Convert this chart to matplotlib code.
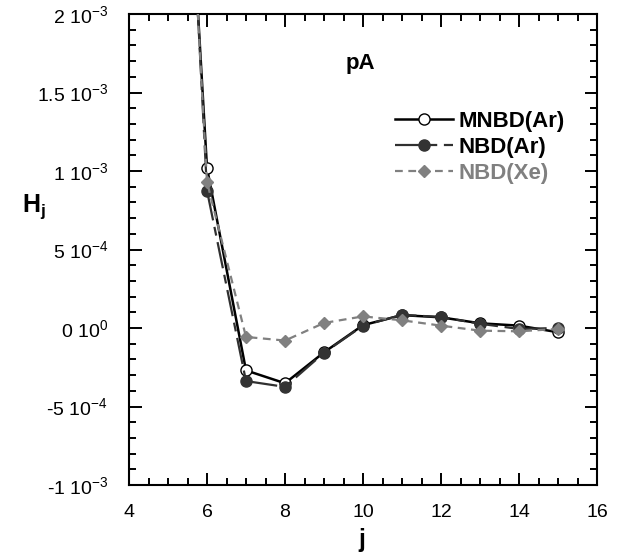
import matplotlib
matplotlib.use("Agg")
import matplotlib.pyplot as plt
from matplotlib.ticker import MultipleLocator, FixedLocator

plt.rcParams['font.family'] = ['Liberation Sans', 'DejaVu Sans']
plt.rcParams['mathtext.fontset'] = 'custom'
plt.rcParams['mathtext.rm'] = 'Liberation Sans'
plt.rcParams['mathtext.it'] = 'Liberation Sans:italic'
plt.rcParams['mathtext.bf'] = 'Liberation Sans:bold'

# ---- data ----
j = [5, 6, 7, 8, 9, 10, 11, 12, 13, 14, 15]
mnbd_ar = [5.3e-3, 1.02e-3, -0.27e-3, -0.352e-3, -0.155e-3, 0.018e-3, 0.082e-3, 0.068e-3, 0.030e-3, 0.015e-3, -0.027e-3]
nbd_ar = [5.7e-3, 0.875e-3, -0.338e-3, -0.375e-3, -0.158e-3, 0.015e-3, 0.084e-3, 0.070e-3, 0.027e-3, -0.006e-3, 0.0]
nbd_xe = [5.5e-3, 0.93e-3, -0.057e-3, -0.080e-3, 0.032e-3, 0.074e-3, 0.049e-3, 0.015e-3, -0.017e-3, -0.021e-3, -0.006e-3]

series_labels = ['MNBD(Ar)', 'NBD(Ar)', 'NBD(Xe)']
x_ticks = [4, 6, 8, 10, 12, 14, 16]
y_ticks = [-1e-3, -5e-4, 0, 5e-4, 1e-3, 1.5e-3, 2e-3]
y_tick_labels = [r'-1 10$^{-3}$', r'-5 10$^{-4}$', r'0 10$^{0}$', r'5 10$^{-4}$',
                 r'1 10$^{-3}$', r'1.5 10$^{-3}$', r'2 10$^{-3}$']

W, H = 626, 552
fig = plt.figure(figsize=(W / 100, H / 100), dpi=100)
left, right, top, bottom = 129, 597, 14, 485
ax = fig.add_axes([left / W, 1 - bottom / H, (right - left) / W, (bottom - top) / H])

ax.plot(j, mnbd_ar, color='black', lw=1.8, marker='o', ms=8, mfc='white', mec='black', mew=1.0,
        label=series_labels[0], zorder=3)
ax.plot(j, nbd_ar, color='#303030', lw=1.6, ls=(0, (12, 3, 4, 3)), marker='o', ms=8, mfc='#333333',
        mec='#333333', label=series_labels[1], zorder=4)
ax.plot(j, nbd_xe, color='#808080', lw=1.6, ls=(0, (3.5, 2.5)), marker='D', ms=6, mfc='#808080',
        mec='#808080', label=series_labels[2], zorder=5)

ax.set_xlim(4, 16)
ax.set_ylim(-1e-3, 2e-3)
ax.xaxis.set_major_locator(FixedLocator(x_ticks))
ax.xaxis.set_minor_locator(MultipleLocator(0.5))
ax.yaxis.set_major_locator(FixedLocator(y_ticks))
ax.yaxis.set_minor_locator(MultipleLocator(1e-4))
ax.set_yticklabels(y_tick_labels)
ax.set_xticklabels([str(t) for t in x_ticks])

ax.tick_params(which='both', direction='in', top=True, right=True, width=1.4, labelsize=14)
ax.tick_params(which='major', length=9)
ax.tick_params(which='minor', length=5)
ax.tick_params(axis='x', pad=14)
ax.tick_params(axis='y', pad=15)
for s in ax.spines.values():
    s.set_linewidth(1.5)

fig.text(362 / W, 1 - 540 / H, 'j', fontsize=18, fontweight='bold', ha='center', va='center')
fig.text(22 / W, 1 - 207 / H, r'H$_{\mathbf{j}}$', fontsize=18, fontweight='bold', ha='left', va='center')

ax.text((360 - left) / (right - left), (bottom - 63) / (bottom - top), 'pA', transform=ax.transAxes,
        fontsize=16, fontweight='bold', ha='center', va='center')

leg = ax.legend(loc='upper left', bbox_to_anchor=((395 - left) / (right - left), (bottom - 111) / (bottom - top)),
                frameon=False, fontsize=16, handlelength=2.6, handletextpad=0.25, labelspacing=0.22,
                borderaxespad=0, borderpad=0)
for t, c in zip(leg.get_texts(), ['black', 'black', '#808080']):
    t.set_fontweight('bold')
    t.set_color(c)

fig.savefig('out.png', dpi=100)
